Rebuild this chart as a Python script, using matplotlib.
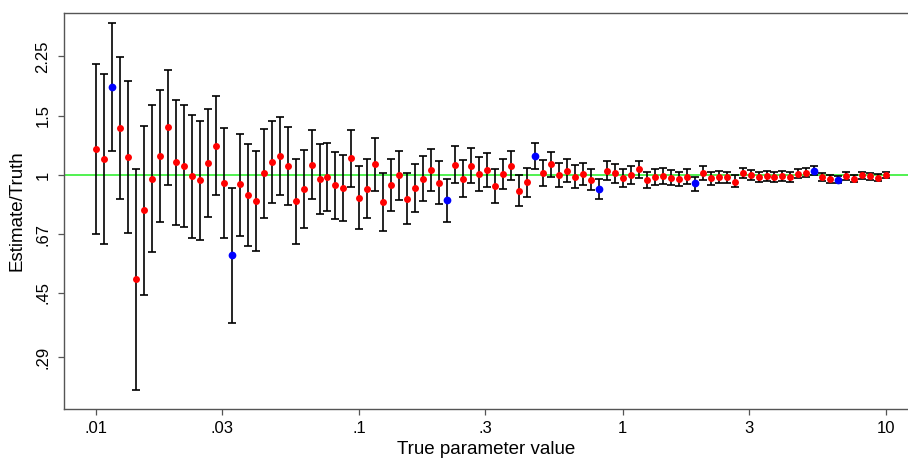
import numpy as np
import matplotlib
matplotlib.use('Agg')
import matplotlib.pyplot as plt

plt.rcParams['font.family'] = ['Liberation Sans', 'DejaVu Sans']

# 100 true parameter values, evenly spaced on a log scale from .01 to 10
true_value = np.logspace(-2, 1, 100)

# estimate / truth, with lower and upper interval limits
estimate = [
    1.198, 1.119, 1.824, 1.379, 1.134, 0.493, 0.789, 0.978, 1.142, 1.389,
    1.094, 1.069, 0.995, 0.968, 1.089, 1.225, 0.950, 0.581, 0.942, 0.877,
    0.841, 1.015, 1.096, 1.142, 1.067, 0.839, 0.912, 1.076, 0.976, 0.992,
    0.937, 0.920, 1.125, 0.860, 0.912, 1.079, 0.835, 0.937, 1.001, 0.854,
    0.918, 0.976, 1.038, 0.948, 0.845, 1.076, 0.978, 1.067, 1.010, 1.038,
    0.931, 1.010, 1.067, 0.902, 0.957, 1.144, 1.019, 1.079, 1.001, 1.033,
    0.992, 1.010, 0.972, 0.912, 1.033, 1.015, 0.983, 1.003, 1.042, 0.970,
    0.988, 0.997, 0.985, 0.974, 0.992, 0.948, 1.019, 0.981, 0.990, 0.988,
    0.959, 1.017, 1.001, 0.988, 0.997, 0.988, 0.997, 0.988, 1.012, 1.017,
    1.033, 0.988, 0.976, 0.972, 0.997, 0.978, 1.001, 0.995, 0.985, 1.001,
]
lower = [
    0.673, 0.628, 1.179, 0.850, 0.677, 0.232, 0.443, 0.595, 0.730, 0.939,
    0.712, 0.704, 0.655, 0.644, 0.752, 0.876, 0.655, 0.367, 0.664, 0.619,
    0.598, 0.750, 0.831, 0.877, 0.818, 0.628, 0.698, 0.850, 0.769, 0.787,
    0.745, 0.735, 0.925, 0.693, 0.747, 0.900, 0.685, 0.784, 0.846, 0.717,
    0.780, 0.839, 0.902, 0.822, 0.728, 0.948, 0.864, 0.948, 0.900, 0.927,
    0.831, 0.910, 0.970, 0.814, 0.866, 1.047, 0.931, 0.992, 0.923, 0.957,
    0.918, 0.935, 0.904, 0.850, 0.968, 0.950, 0.925, 0.944, 0.980, 0.917,
    0.937, 0.944, 0.937, 0.929, 0.946, 0.902, 0.970, 0.939, 0.950, 0.950,
    0.925, 0.981, 0.968, 0.955, 0.963, 0.955, 0.965, 0.955, 0.981, 0.988,
    1.004, 0.961, 0.952, 0.948, 0.972, 0.957, 0.978, 0.972, 0.963, 0.981,
]
upper = [
    2.137, 1.997, 2.820, 2.242, 1.908, 1.047, 1.404, 1.616, 1.787, 2.056,
    1.676, 1.620, 1.510, 1.453, 1.576, 1.722, 1.379, 0.918, 1.329, 1.242,
    1.184, 1.376, 1.453, 1.490, 1.392, 1.119, 1.192, 1.366, 1.242, 1.250,
    1.176, 1.150, 1.366, 1.067, 1.119, 1.291, 1.017, 1.121, 1.184, 1.019,
    1.084, 1.140, 1.200, 1.102, 0.978, 1.223, 1.114, 1.204, 1.137, 1.168,
    1.043, 1.121, 1.179, 1.003, 1.052, 1.250, 1.114, 1.174, 1.091, 1.119,
    1.072, 1.091, 1.045, 0.978, 1.104, 1.081, 1.047, 1.065, 1.104, 1.026,
    1.045, 1.050, 1.038, 1.024, 1.043, 0.992, 1.069, 1.022, 1.029, 1.026,
    1.003, 1.055, 1.036, 1.022, 1.031, 1.022, 1.031, 1.022, 1.047, 1.050,
    1.067, 1.015, 1.003, 0.997, 1.022, 1.003, 1.024, 1.017, 1.008, 1.022,
]

y_ticks = [0.29, 0.45, 0.67, 1, 1.5, 2.25]
y_tick_labels = ['.29', '.45', '.67', '1', '1.5', '2.25']
x_ticks = [0.01, 0.03, 0.1, 0.3, 1, 3, 10]
x_tick_labels = ['.01', '.03', '.1', '.3', '1', '3', '10']

est = np.array(estimate)
lo = np.array(lower)
hi = np.array(upper)
# interval misses the truth -> blue
miss = (hi < 1) | (lo > 1)

fig = plt.figure(figsize=(9.08, 4.61), dpi=100)
ax = fig.add_axes([64 / 908, 51.7 / 461, 845 / 908, 396.6 / 461])

ax.axhline(1, color='#22ee22', lw=1.1, zorder=1)
ax.errorbar(true_value, est, yerr=[est - lo, hi - est], fmt='none',
            ecolor='black', elinewidth=1.2, capsize=2.6, capthick=1.2, zorder=2)
ax.scatter(true_value[~miss], est[~miss], s=25, color='#ff0000', lw=0, zorder=3)
ax.scatter(true_value[miss], est[miss], s=31, color='#0000ff', lw=0, zorder=3)

ax.set_xscale('log')
ax.set_yscale('log')
ax.set_xlim(0.00756, 12.2)
ax.set_ylim(0.2033, 3.031)
ax.minorticks_off()

ax.set_xticks(x_ticks)
ax.set_xticklabels(x_tick_labels)
ax.set_yticks(y_ticks)
ax.set_yticklabels(y_tick_labels, rotation=90, va='center')

for s in ax.spines.values():
    s.set_color('#555555')
    s.set_linewidth(1.0)
ax.tick_params(axis='both', direction='out', length=4.2, width=0.9,
               color='#555555', labelsize=12, labelcolor='black')
ax.tick_params(axis='x', pad=4.5)
ax.tick_params(axis='y', pad=5.5)

ax.set_xlabel('True parameter value', fontsize=13.5, labelpad=3.2)
ax.set_ylabel('Estimate/Truth', fontsize=13.5, labelpad=7)

fig.savefig('out.png', dpi=100)
